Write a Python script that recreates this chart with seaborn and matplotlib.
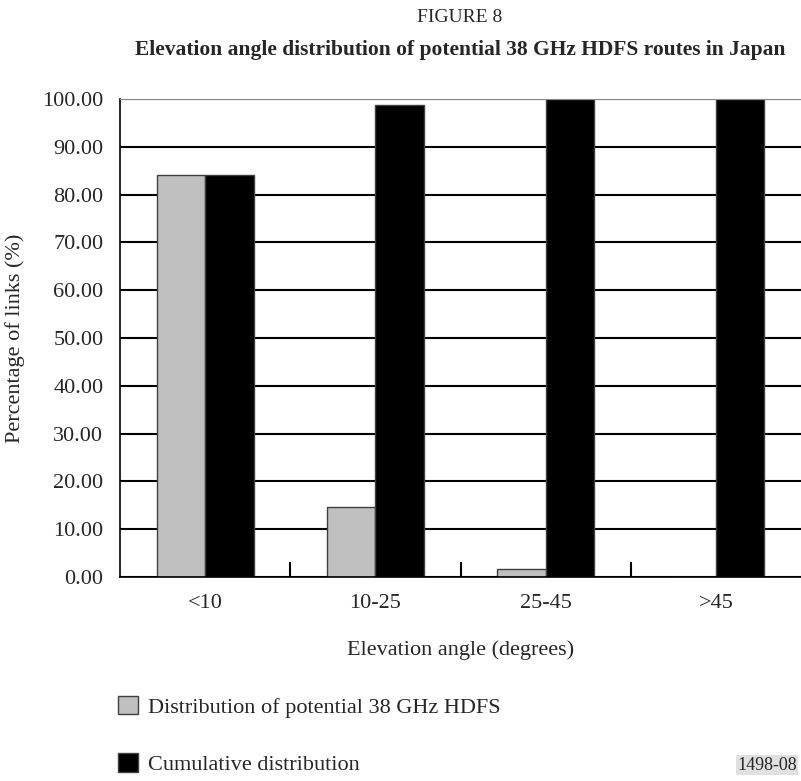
import pandas as pd
import matplotlib
matplotlib.use("Agg")
import matplotlib.pyplot as plt
import seaborn as sns

# Données
categories = ["<10", "10-25", "25-45", ">45"]
distribution = [84.1, 14.6, 1.6, 0.0]
cumulative = [84.0, 98.8, 100.0, 100.0]
series_names = ["Distribution of potential 38 GHz HDFS", "Cumulative distribution"]
yticks = [0, 10, 20, 30, 40, 50, 60, 70, 80, 90, 100]

df = pd.DataFrame({
    "angle": categories * 2,
    "value": distribution + cumulative,
    "series": [series_names[0]] * 4 + [series_names[1]] * 4,
})

sns.set_style("white")
plt.rcParams["font.family"] = ["Liberation Serif", "DejaVu Serif"]

fig = plt.figure(figsize=(8.01, 7.81), dpi=100)
ax = fig.add_axes([120 / 801, 1 - 577 / 781, 1 - 120 / 801, (577 - 99) / 781])

sns.barplot(data=df, x="angle", y="value", hue="series", ax=ax,
            palette=["#c0c0c0", "#000000"], width=0.57, gap=0,
            edgecolor="#404040", linewidth=1.0, saturation=1)

ax.set_ylim(0, 100)
ax.set_xlim(-0.5, 3.5)
ax.set_yticks(yticks)
ax.set_yticklabels([f"{v:.2f}" for v in yticks], fontsize=16)
ax.tick_params(axis="y", length=0, pad=12)

# petites marques entre catégories
ax.set_xticks([0.5, 1.5, 2.5], minor=True)
ax.tick_params(axis="x", which="major", bottom=True, length=0, pad=12, labelsize=16)
ax.tick_params(axis="x", which="minor", bottom=True, direction="in", length=11,
               width=1.5, color="black")

ax.yaxis.grid(True, color="black", linewidth=1.5)
ax.set_axisbelow(True)
grid = ax.get_ygridlines()
grid[-1].set_color("#888888")
grid[-1].set_linewidth(0.8)

for side in ["left", "bottom"]:
    ax.spines[side].set_color("black")
    ax.spines[side].set_linewidth(1.2)
ax.spines["top"].set_color("#888888")
ax.spines["top"].set_linewidth(0.8)
ax.spines["right"].set_visible(False)

ax.set_xlabel("Elevation angle (degrees)", fontsize=16, labelpad=20)
ax.set_ylabel("Percentage of links (%)", fontsize=16, labelpad=12)

fig.text(0.574, 1 - 18 / 781, "FIGURE 8", ha="center", va="center", fontsize=14)
fig.text(0.574, 1 - 50 / 781, "Elevation angle distribution of potential 38 GHz HDFS routes in Japan",
         ha="center", va="center", fontsize=15.5, fontweight="bold")

sns.move_legend(ax, "upper left", bbox_to_anchor=(118 / 801, 1 - 696 / 781),
                bbox_transform=fig.transFigure, frameon=False, title=None,
                fontsize=16, handlelength=0.9, handleheight=0.9,
                handletextpad=0.45, labelspacing=1.6, borderaxespad=0,
                borderpad=0)

fig.text(0.995, 1 - 765 / 781, "1498-08", ha="right", va="center", fontsize=13,
         bbox=dict(facecolor="#e0e0e0", edgecolor="none", pad=1))

fig.savefig("out.png", dpi=100)
